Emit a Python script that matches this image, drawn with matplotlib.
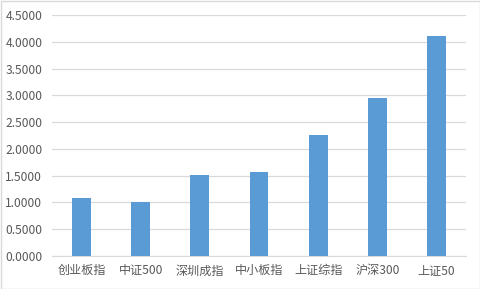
import matplotlib
matplotlib.use("Agg")
import matplotlib.pyplot as plt
from matplotlib.ticker import FormatStrFormatter
from matplotlib.patches import Rectangle

plt.rcParams['font.family'] = ['Noto Sans CJK SC', 'DejaVu Sans']

categories = ['创业板指', '中证500', '深圳成指', '中小板指', '上证综指', '沪深300', '上证50']
values = [1.09, 1.01, 1.52, 1.57, 2.26, 2.95, 4.11]
yticks = [0, 0.5, 1.0, 1.5, 2.0, 2.5, 3.0, 3.5, 4.0, 4.5]

fig = plt.figure(figsize=(4.81, 2.89), dpi=100)
ax = fig.add_axes([52/481, 33/289, 414/481, 241/289])

x = range(len(categories))
ax.bar(x, values, width=0.32, color='#5B9BD5', zorder=3)
ax.set_xlim(-0.5, len(categories) - 0.5)
ax.set_ylim(0, 4.5)
ax.set_yticks(yticks)
ax.yaxis.set_major_formatter(FormatStrFormatter('%.4f'))
ax.set_xticks(list(x))
ax.set_xticklabels(categories)
ax.grid(axis='y', color='#D9D9D9', linewidth=0.9, zorder=0)
for s in ['top', 'right', 'left']:
    ax.spines[s].set_visible(False)
ax.spines['bottom'].set_color('#D9D9D9')
ax.tick_params(axis='both', length=0, colors='#595959', labelsize=8.7)
ax.tick_params(axis='y', pad=7)
ax.tick_params(axis='x', pad=6)

fig.patches.append(Rectangle((0.5/481, 0.5/289), 1 - 1.5/481, 1 - 1.5/289,
                             transform=fig.transFigure, fill=False,
                             edgecolor='#D9D9D9', linewidth=1))

fig.savefig('out.png', dpi=100)
